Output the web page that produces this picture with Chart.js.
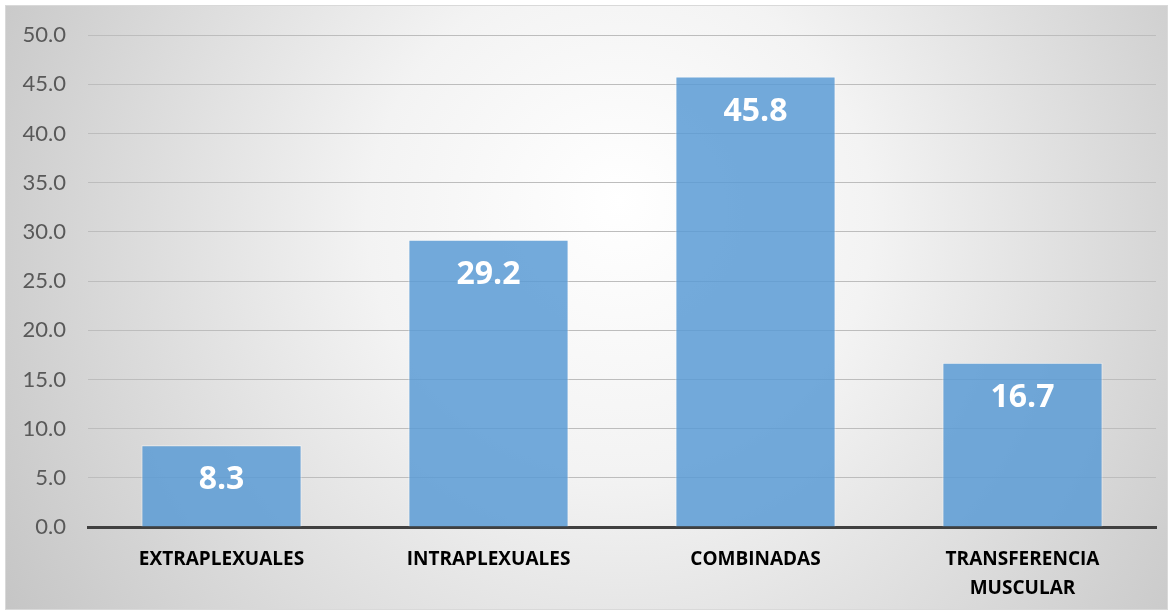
<!DOCTYPE html>
<html>
<head>
<meta charset="utf-8">
<script src="https://cdn.jsdelivr.net/npm/chart.js@4"></script>
<style>
html,body{margin:0;padding:0;background:#fff;}
#wrap{width:1173px;height:615px;position:relative;}
</style>
</head>
<body>
<div id="wrap"><canvas id="c" width="1173" height="615"></canvas></div>
<script>
const categories = ["EXTRAPLEXUALES", "INTRAPLEXUALES", "COMBINADAS", ["TRANSFERENCIA", "MUSCULAR"]];
const values = [8.3, 29.2, 45.8, 16.7];
const yTicks = [0, 5, 10, 15, 20, 25, 30, 35, 40, 45, 50];

const FONT = "Lato, 'Open Sans', sans-serif";
const BOLD = "'Open Sans', Lato, sans-serif";

const bgPlugin = {
  id: 'bg',
  beforeDraw(chart) {
    const ctx = chart.ctx;
    const w = chart.width, h = chart.height;
    ctx.save();
    ctx.fillStyle = '#ffffff';
    ctx.fillRect(0, 0, w, h);
    const g = ctx.createRadialGradient(620, 200, 0, 620, 260, 720);
    g.addColorStop(0, '#ffffff');
    g.addColorStop(0.35, '#f3f3f3');
    g.addColorStop(1, '#c4c4c4');
    ctx.fillStyle = g;
    ctx.fillRect(5, 5, w - 10, h - 10);
    ctx.strokeStyle = '#d9d9d9';
    ctx.lineWidth = 1;
    ctx.strokeRect(5.5, 5.5, w - 11, h - 11);
    ctx.restore();
  }
};

const labelPlugin = {
  id: 'vals',
  afterDatasetsDraw(chart) {
    const ctx = chart.ctx;
    const meta = chart.getDatasetMeta(0);
    ctx.save();
    ctx.fillStyle = '#ffffff';
    ctx.font = "bold 32px " + BOLD;
    ctx.textAlign = 'center';
    ctx.textBaseline = 'middle';
    meta.data.forEach((bar, i) => {
      ctx.fillText(values[i].toFixed(1), bar.x, bar.y + 35);
    });
    ctx.restore();
  }
};

new Chart(document.getElementById('c'), {
  type: 'bar',
  data: {
    labels: categories,
    datasets: [{
      data: values,
      backgroundColor: 'rgba(91,155,213,0.85)',
      borderColor: 'rgba(255,255,255,0.55)',
      borderWidth: 1,
      barPercentage: 0.6,
      categoryPercentage: 1.0
    }]
  },
  options: {
    responsive: false,
    animation: false,
    layout: { padding: { left: 0, right: 17, top: 34, bottom: 0 } },
    plugins: { legend: { display: false }, tooltip: { enabled: false } },
    scales: {
      y: {
        min: 0, max: 50,
        afterBuildTicks(scale) { scale.ticks = yTicks.map(v => ({ value: v })); },
        afterFit(scale) { scale.width = 88; },
        ticks: {
          padding: 22,
          color: '#595959',
          font: { family: FONT, size: 22 },
          callback: v => Number(v).toFixed(1)
        },
        grid: { color: '#bdbdbd', lineWidth: 1, drawTicks: false },
        border: { display: false }
      },
      x: {
        afterFit(scale) { scale.height = 88; },
        ticks: {
          padding: 19,
          color: '#000000',
          font: { family: BOLD, size: 19, weight: 'bold', lineHeight: 1.48 },
          maxRotation: 0
        },
        grid: { display: false, drawTicks: false },
        border: { display: true, color: '#404040', width: 3 }
      }
    }
  },
  plugins: [bgPlugin, labelPlugin]
});
</script>
</body>
</html>
